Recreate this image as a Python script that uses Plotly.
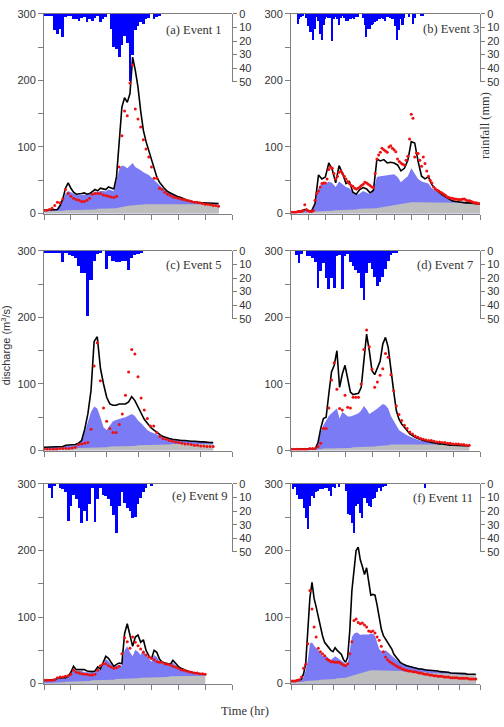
import plotly.graph_objects as go

# ---------------- data (hourly unless noted) ----------------
labels = ["(a) Event 1", "(b) Event 3", "(c) Event 5", "(d) Event 7", "(e) Event 9", "(f) Event 11"]
x_ranges = [70, 110, 60, 70, 70, 90]

# Event 1
sim_1 = [5,5,5,5,5,6,12,22,38,46, 38,32,29,29,30,31,29,30,33,36, 34,38,37,36,40,39,37,55,110,160,
         174,167,180,235,215,190,154,125,108,95, 82,68,55,47,41,37,33,31,28,26, 25,24,22,20,19,18,17,17,16,16,
         16,15,15,15,15,15]
quick_1 = [5,5,5,5,5,6,11,19,30,34, 32,30,28,28,28,29,28,29,31,33, 32,34,34,33,36,35,34,50,66,72,
           71,68,72,76,70,68,65,62,60,58, 54,50,46,42,38,35,32,30,28,26, 25,23,22,20,19,18,17,17,16,16,
           16,15,15,15,15,15]
base_1 = [3,3,3,4,4,4,4,4,5,5, 5,5,5,5,6,6,6,6,6,6, 7,7,7,7,7,7,8,8,9,10,
          11,11,12,12,13,13,13,14,14,14, 14,14,14,14,14,15,15,15,15,15, 15,15,15,15,15,15,15,15,15,15,
          14,14,14,14,14,14]
obs_1 = [5,5,6,8,12,17,16,22,36,30, 26,23,21,20,18,18,20,23,29,30, 30,30,28,27,26,25,24,26,70,117,
         154,147,196,223,157,142,130,111,97,85, 70,53,53,38,36,32,29,27,25,24, 23,22,21,20,19,18,17,17,16,15,
         14,14,13,12,12,11]
rain_1 = [1,1,1,1,12,15,11,17,2,1, 1,4,4,5,3,2,6,4,5,3, 1,6,4,2,0,11,24,26,32,23,
          16,21,49,30,12,9,6,7,4,3, 0,4,2,1]

# Event 3 (flows every 2 h, observed hourly)
sim_3 = [2,2,3,4,6,4,4,15,58,52, 55,76,66,46,72,60,45,48,32,29, 36,39,37,31,35,82,79,81,76,77,
         76,73,64,68,80,108,106,78,56,52, 55,43,37,32,28,25,21,19,18,17, 17,16,16,15,15,14]
quick_3 = [2,2,3,4,5,4,4,12,38,46, 44,48,46,40,48,44,40,38,32,28, 30,34,32,29,35,55,56,57,57,58,
           59,55,47,52,56,68,60,52,48,46, 45,38,34,30,27,24,21,19,18,17, 17,16,16,15,15,14]
base_3 = [1,1,1,1,2,2,2,3,3,3, 4,4,4,5,5,5,5,6,6,6, 7,7,7,7,8,8,9,10,11,12,
          13,14,15,16,16,17,17,17,17,17, 17,17,17,17,17,17,16,16,16,16, 15,15,15,15,15,14]
obs_3 = [2,2,2,2,3,3,3,4,13,6, 4,3,3,4,20,30,34,40,45,46, 46,52,66,70,68,60,52,56,62,64,
         60,56,52,48,45,42,41,38,37,38, 40,42,44,47,46,44,42,40,39,60, 82,88,92,98,96,94,92,100,102,98,
         96,93,82,78,76,74,73,80,86,112, 149,143,85,91,90,80,71,85,75,64, 56,50,46,40,37,35,34,32,31,29,
         27,25,24,23,23,22,22,21,21,21, 22,22,20,19,19,18,17,16,16,15,15]
rain_3 = [0,0,0,0,7,4,2,1,0,3, 9,13,13,19,11,2,5,15,19,8, 4,2,3,3,20,4,2,4,8,3,
          1,3,5,5,4,4,3,4,2,2, 0,0,3,8,17,11,11,8,7,6, 5,4,4,3,4,5,2,2,3,4,
          4,9,19,12,4,8,3,0,0,2, 0,7,3,0,0,0,1,1]

# Event 5
sim_5 = [5,5,5,5,5,5,6,8,8,8, 9,11,15,32,55,90,164,171,124,100, 80,70,68,68,70,70,70,73,81,75,
         65,56,47,41,35,31,27,24,21,19, 18,17,16,16,15,15,14,14,14,13, 13,13,12,12,12]
quick_5 = [5,5,5,5,5,5,6,7,7,7, 8,10,14,28,45,58,66,63,50,35, 31,38,44,46,48,49,50,53,55,52,
           45,41,36,31,28,26,24,22,20,19, 18,17,16,16,15,15,14,14,14,13, 13,13,12,12,12]
base_5 = [2,2,2,2,2,3,3,3,3,3, 3,4,4,4,4,4,5,5,5,5, 5,6,6,6,6,6,7,7,7,7,
          8,8,8,8,8,9,9,9,9,9, 9,10,10,10,10,10,10,10,10,10, 10,10,10,10,10]
obs_5 = [2,2,2,2,2,3,3,3,3,4, 5,9,10,11,12,32,127,162,105,64, 44,33,27,27,39,55,83,118,152,145,
         111,79,61,48,37,37,27,21,18,17, 15,14,13,12,11,10,10,9,8,8, 7,7,6,6,6]
rain_5 = [1,1,1,1,1,1,8,1,3,4, 5,11,16,16,48,21,7,2,1,0, 13,4,7,8,8,7,7,14,5,3, 2,1]

# Event 7
sim_7 = [2,2,2,2,2,2,2,3,3,3, 12,33,48,50,85,118,128,150,95,115, 128,110,88,84,85,86,95,134,175,150,
         120,114,124,134,160,170,155,120,90,60, 47,40,34,30,25,22,20,18,16,15, 14,13,12,11,11,10,10,9,9,8,
         8,8,8,7,7,7,7]
quick_7 = [2,2,2,2,2,2,2,2,3,3, 10,28,38,45,52,56,60,63,48,58, 55,51,51,52,54,56,60,67,62,55,
           57,60,63,67,70,68,63,52,45,36, 31,28,25,23,21,19,17,16,15,14, 13,12,12,11,11,10,10,9,9,9,
           9,8,8,8,8,8,8]
base_7 = [1,1,1,1,1,1,2,2,2,2, 2,2,3,3,3,3,3,3,4,4, 4,4,4,5,5,5,5,5,6,6,
          6,6,7,7,7,8,8,9,9,10, 10,10,10,10,10,10,10,10,10,10, 10,10,10,10,10,10,9,9,9,9,
          9,9,9,8,8,8,8]
obs_7 = [2,2,2,2,2,2,2,3,3,3, 6,11,33,33,64,106,132,92,63,61, 83,65,64,80,80,80,100,152,181,156,
         122,95,103,113,123,146,140,114,90,67, 54,45,38,33,28,25,22,20,18,17, 16,15,15,14,13,13,12,12,11,11,
         10,10,10,9,9,8,8]
rain_7 = [0,0,3,9,2,0,4,4,5,8, 27,15,9,20,28,20,27,4,3,28, 4,2,8,11,14,16,27,36,16,9,
          13,19,26,23,19,13,7,3,1,1]

# Event 9
sim_9 = [5,5,5,5,6,8,9,9,9,11, 17,26,21,21,22,21,19,18,18,19, 25,22,31,41,38,31,26,29,31,30,
         75,90,72,56,70,73,62,66,50,42, 37,50,47,37,32,31,30,29,35,30, 26,23,21,19,18,17,16,15,15,14, 14]
quick_9 = [5,5,5,5,6,8,8,8,9,10, 15,22,19,19,19,17,17,16,16,17, 22,20,28,37,34,29,25,27,28,27,
           50,56,47,41,51,48,43,51,42,38, 33,43,40,34,30,29,29,28,32,27, 24,22,20,19,18,17,16,15,15,14, 14]
base_9 = [1,1,1,2,2,2,2,2,3,3, 3,3,3,4,4,4,4,4,5,5, 5,5,6,6,6,6,6,7,7,7,
          7,8,8,8,8,8,9,9,9,9, 9,10,10,10,10,10,10,11,11,11, 11,11,11,11,11,11,12,12,12,12, 12]
obs_9 = [5,5,5,5,6,9,10,10,11,12, 14,20,17,16,15,14,14,13,13,14, 20,27,30,30,27,25,23,24,26,45,
         69,63,53,70,62,57,52,47,43,40, 38,36,33,32,32,30,29,28,26,25, 23,21,20,19,18,17,16,16,15,15, 14]
rain_9 = [0,0,3,10,1,0,3,4,6,27, 16,8,11,18,29,20,27,15,3,28, 11,3,8,9,11,16,23,36,16,6,
          14,18,20,25,24,15,10,6,3,0, 1]

# Event 11
sim_11 = [4,4,4,4,5,7,15,30,85,129, 152,128,115,100,88,72,62,58,55,50, 48,54,50,47,44,36,32,40,80,140,
          175,200,205,186,176,164,174,152,133,134, 133,118,100,82,72,67,63,58,52,44, 40,36,32,30,28,27,26,25,24,23,
          23,22,22,21,21,20,20,20,19,19, 19,18,18,18,17,17,16,16,16,16, 15,15,15,15,14,14,14,14,14]
quick_11 = [4,4,4,4,5,6,10,20,35,60, 62,57,54,50,46,42,41,41,38,36, 38,41,39,37,35,32,30,30,48,70,
            75,77,76,73,74,74,73,74,75,75, 72,62,52,49,48,50,48,45,42,39, 36,33,31,30,29,28,27,26,25,24,
            24,23,23,22,22,21,21,20,20,19, 19,19,18,18,18,17,17,17,16,16, 16,15,15,15,15,14,14,14,14]
base_11 = [2,2,2,2,3,3,3,4,4,4, 5,5,5,5,6,6,6,6,7,7, 7,7,8,8,8,9,9,10,11,12,
           13,14,15,16,17,18,19,19,20,20, 20,20,20,20,20,20,20,20,19,19, 19,19,19,19,18,18,18,18,18,18,
           17,17,17,17,17,16,16,16,16,16, 16,15,15,15,15,15,15,14,14,14, 14,14,14,13,13,13,13,13,13]
obs_11 = [4,4,4,5,6,10,23,29,60,140, 112,85,70,53,48,45,42,37,35,33, 33,32,32,32,30,28,27,30,45,63,
          95,97,92,90,91,88,85,79,78,79, 76,70,65,56,48,40,36,33,31,29, 27,25,24,22,21,20,19,19,18,18,
          17,16,16,15,14,14,13,13,12,12, 11,11,11,10,10,10,9,9,9,9, 8,8,8,8,8,7,7,7,7]
rain_11 = [0,4,2,8,11,11,18,25,33,16, 9,10,6,5,4,4,3,3,5,9, 2,3,0,2,0,0,5,22,23,29,
           36,16,15,21,25,10,14,16,17,11, 10,6,3,5,2,1,0,0,0,0, 0,0,0,0,0,0,0,0,0,0, 0,0,0,0,3]

events = [
    (sim_1, quick_1, base_1, obs_1, rain_1, 1),
    (sim_3, quick_3, base_3, obs_3, rain_3, 2),
    (sim_5, quick_5, base_5, obs_5, rain_5, 1),
    (sim_7, quick_7, base_7, obs_7, rain_7, 1),
    (sim_9, quick_9, base_9, obs_9, rain_9, 1),
    (sim_11, quick_11, base_11, obs_11, rain_11, 1),
]

# ---------------- layout geometry ----------------
W, H = 504, 727
col_px = [(44, 232), (291, 480)]
row_px = [(8, 211), (249, 452), (486, 689)]
GRAY = "#808080"
TXT = "#333333"
SANS = "Liberation Sans, Arial, sans-serif"
SERIF = "Liberation Serif, Times New Roman, serif"

fig = go.Figure()
layout = dict(width=W, height=H, margin=dict(l=0, r=0, t=0, b=0),
              paper_bgcolor="white", plot_bgcolor="rgba(0,0,0,0)", showlegend=False,
              bargap=0, annotations=[])

for i, (sim, quick, base, obs, rain, step) in enumerate(events):
    k = i + 1
    r, c = divmod(i, 2)
    x0, x1 = col_px[c]
    yt, yb = row_px[r]
    xd = [x0 / W, x1 / W]
    yd = [1 - yb / H, 1 - yt / H]
    rd = [yd[1] - 0.34 * (yd[1] - yd[0]), yd[1]]
    xa, ya, ra = f"x{k}", f"y{k}", f"y{k+6}"

    tf = [j * step for j in range(len(sim))]
    tq = [j * step for j in range(len(quick))]
    tb = [j * step for j in range(len(base))]
    to = list(range(len(obs)))
    tr = list(range(len(rain)))

    # rainfall first so the discharge traces stay visible above it
    fig.add_trace(go.Bar(x=tr, y=rain, width=1, marker=dict(color="#0000ff", line=dict(width=0)),
                         xaxis=xa, yaxis=ra))
    fig.add_trace(go.Scatter(x=tq, y=quick, mode="lines", line=dict(width=0, color="#7b7bf5"),
                             fill="tozeroy", fillcolor="#7b7bf5", xaxis=xa, yaxis=ya))
    fig.add_trace(go.Scatter(x=tb, y=base, mode="lines", line=dict(width=0, color="#bebebe"),
                             fill="tozeroy", fillcolor="#bebebe", xaxis=xa, yaxis=ya))
    fig.add_trace(go.Scatter(x=tf, y=sim, mode="lines", line=dict(width=1.6, color="black"),
                             xaxis=xa, yaxis=ya, cliponaxis=False))
    fig.add_trace(go.Scatter(x=to, y=obs, mode="markers",
                             marker=dict(size=3, color="#ee1111", line=dict(width=0)),
                             xaxis=xa, yaxis=ya))

    axsuffix = "" if k == 1 else str(k)
    layout["xaxis" + axsuffix] = dict(
        domain=xd, range=[0, x_ranges[i]], dtick=10, tick0=0, anchor=ya,
        ticks="outside", ticklen=5, tickcolor=GRAY, showticklabels=False,
        showline=True, linecolor=GRAY, linewidth=1, mirror=True,
        showgrid=False, zeroline=False)
    layout["yaxis" + axsuffix] = dict(
        domain=yd, range=[0, 300], tickvals=[0, 100, 200, 300], anchor=xa,
        ticks="outside", ticklen=5, tickcolor=GRAY,
        minor=dict(dtick=50, tick0=0, ticks="outside", ticklen=5, tickcolor=GRAY, showgrid=False),
        showline=True, linecolor=GRAY, linewidth=1, showgrid=False, zeroline=False,
        tickfont=dict(family=SANS, size=11, color=TXT))
    layout[f"yaxis{k+6}"] = dict(
        domain=rd, range=[50, 0], tickvals=[0, 10, 20, 30, 40, 50], anchor=xa, side="right",
        ticks="outside", ticklen=4, tickcolor=GRAY,
        showline=True, linecolor=GRAY, linewidth=1, showgrid=False, zeroline=False,
        tickfont=dict(family=SANS, size=11, color=TXT))

label_pos = [(224, 24), (481, 23), (224, 263), (475, 263), (230, 498), (475, 500)]
for lab, (lx, ly) in zip(labels, label_pos):
    layout["annotations"].append(dict(
        text=lab, x=lx / W, y=1 - ly / H, xref="paper", yref="paper",
        xanchor="right", yanchor="middle", showarrow=False,
        font=dict(family=SERIF, size=12.5, color=TXT)))

layout["annotations"].append(dict(
    text="discharge (m<sup>3</sup>/s)", x=6 / W, y=1 - 345 / H, xref="paper", yref="paper",
    xanchor="center", yanchor="middle", textangle=-90, showarrow=False,
    font=dict(family=SANS, size=11, color=TXT)))
layout["annotations"].append(dict(
    text="rainfall (mm)", x=485 / W, y=1 - 122 / H, xref="paper", yref="paper",
    xanchor="center", yanchor="middle", textangle=-90, showarrow=False,
    font=dict(family=SERIF, size=12.5, color=TXT)))
layout["annotations"].append(dict(
    text="Time (hr)", x=245 / W, y=1 - 717 / H, xref="paper", yref="paper",
    xanchor="center", yanchor="middle", showarrow=False,
    font=dict(family=SERIF, size=12.5, color=TXT)))

fig.update_layout(**layout)
fig.write_html("out.html")
